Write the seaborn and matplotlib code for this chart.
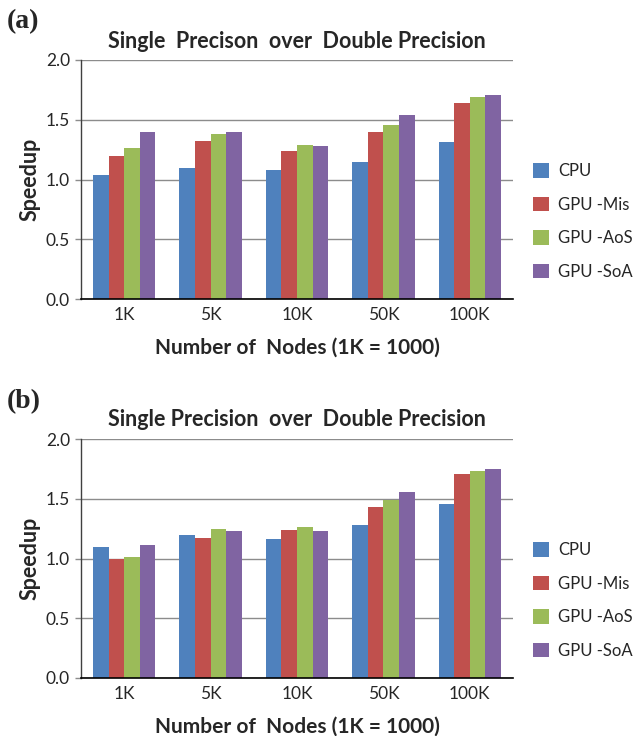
import matplotlib
matplotlib.use("Agg")
import matplotlib.pyplot as plt
from matplotlib.patches import Patch
import seaborn as sns
import pandas as pd

categories = ["1K", "5K", "10K", "50K", "100K"]
series = ["CPU", "GPU -Mis", "GPU -AoS", "GPU -SoA"]
colors = ["#4F81BD", "#C0504D", "#9BBB59", "#8064A2"]

# Panel (a)
a_cpu = [1.04, 1.10, 1.08, 1.15, 1.31]
a_mis = [1.20, 1.32, 1.24, 1.40, 1.64]
a_aos = [1.26, 1.38, 1.29, 1.46, 1.69]
a_soa = [1.40, 1.40, 1.28, 1.54, 1.71]

# Panel (b)
b_cpu = [1.10, 1.20, 1.16, 1.28, 1.46]
b_mis = [1.00, 1.17, 1.24, 1.43, 1.71]
b_aos = [1.01, 1.25, 1.26, 1.49, 1.73]
b_soa = [1.11, 1.23, 1.23, 1.56, 1.75]

title_a = "Single  Precison  over  Double Precision"
title_b = "Single Precision  over  Double Precision"
xlabel = "Number of  Nodes (1K = 1000)"
ylabel = "Speedup"
yticks = [0.0, 0.5, 1.0, 1.5, 2.0]


def long_df(vals):
    rows = []
    for s, v in zip(series, vals):
        for c, y in zip(categories, v):
            rows.append({"nodes": c, "series": s, "speedup": y})
    return pd.DataFrame(rows)


sns.set_theme(style="white")
plt.rcParams["font.family"] = ["Lato", "DejaVu Sans"]

fig = plt.figure(figsize=(6.33, 7.36), dpi=100)
W, H = 633, 736

panels = [
    (long_df([a_cpu, a_mis, a_aos, a_soa]), title_a, "(a)", 60, 299, 22),
    (long_df([b_cpu, b_mis, b_aos, b_soa]), title_b, "(b)", 439, 678, 402),
]

for df, title, tag, top, bot, tag_y in panels:
    ax = fig.add_axes([81 / W, 1 - bot / H, 432 / W, (bot - top) / H])
    sns.barplot(data=df, x="nodes", y="speedup", hue="series", order=categories,
                hue_order=series, palette=colors, width=0.72, saturation=1,
                errorbar=None, ax=ax, legend=False, linewidth=0)
    ax.set_ylim(0, 2.0)
    ax.set_xlim(-0.5, 4.5)
    ax.set_yticks(yticks)
    ax.set_yticklabels([f"{t:.1f}" for t in yticks], fontsize=12.5)
    ax.tick_params(axis="x", labelsize=12.5, length=0, pad=6)
    ax.tick_params(axis="y", length=4, width=1, color="#8C8C8C", pad=4, left=True)
    ax.yaxis.grid(True, color="#8C8C8C", linewidth=1.0)
    ax.set_axisbelow(True)
    for s in ["top", "right"]:
        ax.spines[s].set_visible(False)
    ax.spines["left"].set_color("#404040")
    ax.spines["left"].set_linewidth(1.0)
    ax.spines["bottom"].set_color("black")
    ax.spines["bottom"].set_linewidth(1.2)
    ax.set_title(title, fontsize=15.5, fontweight="bold", pad=9)
    ax.set_xlabel(xlabel, fontsize=15, fontweight="bold", labelpad=10)
    ax.set_ylabel(ylabel, fontsize=15.5, fontweight="bold", labelpad=4)
    handles = [Patch(facecolor=c, edgecolor="none") for c in colors]
    ax.legend(handles, series, loc="center left", bbox_to_anchor=(1.046, 0.325),
              frameon=False, fontsize=12, handlelength=0.96, handleheight=0.96,
              labelspacing=1.05, handletextpad=0.55, borderaxespad=0, borderpad=0)
    fig.text(7 / W, 1 - tag_y / H, tag, fontsize=20, fontweight="bold",
             family="Liberation Serif", va="center", ha="left")

fig.savefig("out.png", dpi=100)
